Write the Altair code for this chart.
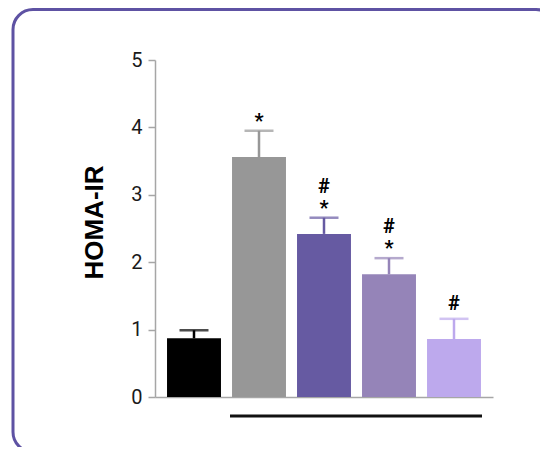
import altair as alt
import pandas as pd

groups = ["Group 1", "Group 2", "Group 3", "Group 4", "Group 5"]
means = [0.87, 3.56, 2.42, 1.82, 0.86]
sems = [0.12, 0.39, 0.24, 0.24, 0.30]
colors = ["#000000", "#979797", "#665AA2", "#9584B8", "#BDA9ED"]
star = [False, True, True, True, False]
hashm = [False, False, True, True, True]
y_ticks = [0, 1, 2, 3, 4, 5]

df = pd.DataFrame({"group": groups, "mean": means, "sem": sems,
                   "star": star, "hash": hashm})
df["top"] = df["mean"] + df["sem"]

W, H = 338, 337
xsc = alt.Scale(domain=groups, paddingInner=0.17, paddingOuter=0.185)
ysc = alt.Scale(domain=[0, 5], nice=False)
csc = alt.Scale(domain=groups, range=colors)

base = alt.Chart(df)

x_enc = alt.X("group:N", scale=xsc, sort=groups,
              axis=alt.Axis(labels=False, ticks=False, title=None,
                            domainColor="#A6A6A6", domainWidth=1.5))
y_axis = alt.Axis(values=y_ticks, format="d", title="HOMA-IR", grid=False,
                  domainColor="#A6A6A6", domainWidth=1.5,
                  tickColor="#A6A6A6", tickWidth=1.5, tickSize=7,
                  labelPadding=6, labelFont="Roboto", labelFontSize=20,
                  labelColor="#1a1a1a",
                  titleFont="Liberation Sans", titleFontSize=26,
                  titleFontWeight="bold", titleColor="#000000",
                  titleX=-61, titleY=162, titleAngle=270,
                  titleAlign="center", titleBaseline="middle")

bars = base.mark_bar().encode(
    x=x_enc,
    y=alt.Y("mean:Q", scale=ysc, axis=y_axis),
    color=alt.Color("group:N", scale=csc, legend=None),
)

stems = base.mark_rule(strokeWidth=2.5).encode(
    x=alt.X("group:N", scale=xsc, sort=groups),
    y=alt.Y("mean:Q", scale=ysc),
    y2="top:Q",
    color=alt.Color("group:N", scale=csc, legend=None),
)

caps = base.mark_tick(size=29, thickness=2.5).encode(
    x=alt.X("group:N", scale=xsc, sort=groups),
    y=alt.Y("top:Q", scale=ysc),
    color=alt.Color("group:N", scale=csc, legend=None),
)

txt = dict(font="Roboto", fontSize=20, fontWeight="bold", color="#000000",
           align="center", baseline="alphabetic")

stars = base.transform_filter("datum.star").mark_text(dy=-3, **txt).encode(
    x=alt.X("group:N", scale=xsc, sort=groups),
    y=alt.Y("top:Q", scale=ysc),
    text=alt.value("*"),
)
hash_hi = base.transform_filter("datum.hash && datum.star").mark_text(dy=-25, **txt).encode(
    x=alt.X("group:N", scale=xsc, sort=groups),
    y=alt.Y("top:Q", scale=ysc),
    text=alt.value("#"),
)
hash_lo = base.transform_filter("datum.hash && !datum.star").mark_text(dy=-9, **txt).encode(
    x=alt.X("group:N", scale=xsc, sort=groups),
    y=alt.Y("top:Q", scale=ysc),
    text=alt.value("#"),
)

bracket_df = pd.DataFrame({"g1": [groups[1]], "g2": [groups[-1]]})
bracket = alt.Chart(bracket_df).mark_rule(
    strokeWidth=3, color="#111111", xOffset=-29, x2Offset=28
).encode(
    x=alt.X("g1:N", scale=xsc),
    x2="g2:N",
    y=alt.value(356),
)

border = alt.Chart(pd.DataFrame({"a": [0]})).mark_rect(
    fillOpacity=0, stroke="#5E52A3", strokeWidth=3, cornerRadius=20
).encode(
    x=alt.value(-142), x2=alt.value(401),
    y=alt.value(-50.5), y2=alt.value(392),
)

chart = alt.layer(border, bars, stems, caps, stars, hash_hi, hash_lo, bracket).properties(
    width=W, height=H,
    autosize=alt.AutoSizeParams(type="none"),
    padding={"left": 147, "top": 52, "right": 47, "bottom": 50},
).configure_view(stroke="transparent")

chart.save("out.html", embed_options={"renderer": "svg", "actions": False})
